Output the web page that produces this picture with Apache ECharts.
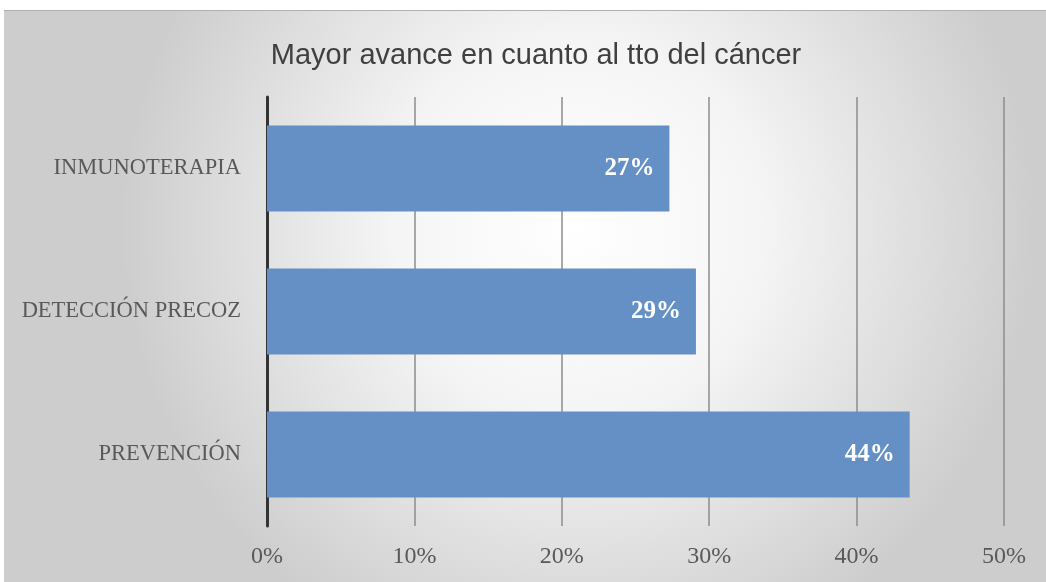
<!DOCTYPE html>
<html>
<head>
<meta charset="utf-8">
<script src="https://cdn.jsdelivr.net/npm/echarts@6/dist/echarts.min.js"></script>
<style>html,body{margin:0;padding:0;background:#fff;}#c{width:1046px;height:582px;}</style>
</head>
<body>
<div id="c"></div>
<script>
const titleText = 'Mayor avance en cuanto al tto del cáncer';
const categories = ['INMUNOTERAPIA', 'DETECCIÓN PRECOZ', 'PREVENCIÓN'];
const values = [27.3, 29.1, 43.6];
const xTicks = [0, 10, 20, 30, 40, 50];

const chart = echarts.init(document.getElementById('c'), null, {renderer: 'canvas'});
chart.setOption({
  animation: false,
  backgroundColor: '#ffffff',
  graphic: [
    {type: 'rect', z: -10, silent: true, shape: {x: 4, y: 10, width: 1042, height: 572},
     style: {fill: new echarts.graphic.RadialGradient(0.55, 0.38, 0.8, [
       {offset: 0, color: '#ffffff'}, {offset: 0.4, color: '#f5f5f5'}, {offset: 1, color: '#cdcdcd'}])}},
    {type: 'line', z: -9, silent: true, shape: {x1: 4, y1: 10.5, x2: 1046, y2: 10.5},
     style: {stroke: '#b0b0b0', lineWidth: 1}}
  ],
  title: {
    text: titleText, left: 531, textAlign: 'center', top: 36,
    textStyle: {fontFamily: '"Liberation Sans", Arial', fontWeight: 'normal', fontSize: 29, color: '#404040'}
  },
  grid: {left: 267, right: 42, top: 97, bottom: 56},
  xAxis: {
    type: 'value', min: 0, max: 50, interval: 10,
    axisLine: {show: false}, axisTick: {show: false},
    splitLine: {show: true, lineStyle: {color: '#8c8c8c', width: 1.5}},
    axisLabel: {formatter: v => xTicks.includes(v) ? v + '%' : '', margin: 19,
      fontFamily: '"Liberation Serif", serif', fontSize: 24, color: '#595959'}
  },
  yAxis: {
    type: 'category', data: categories, inverse: true,
    axisLine: {show: true, lineStyle: {color: '#333333', width: 3}},
    axisTick: {show: false},
    axisLabel: {margin: 26, fontFamily: '"Liberation Serif", serif', fontSize: 22.5, color: '#595959'}
  },
  series: [{
    type: 'bar', data: values, barWidth: '60%',
    itemStyle: {color: '#6590C6'},
    label: {show: true, position: 'insideRight', distance: 15,
      formatter: p => Math.round(p.value) + '%',
      fontFamily: '"Liberation Serif", serif', fontWeight: 'bold', fontSize: 25, color: '#ffffff'}
  }]
});
</script>
</body>
</html>
